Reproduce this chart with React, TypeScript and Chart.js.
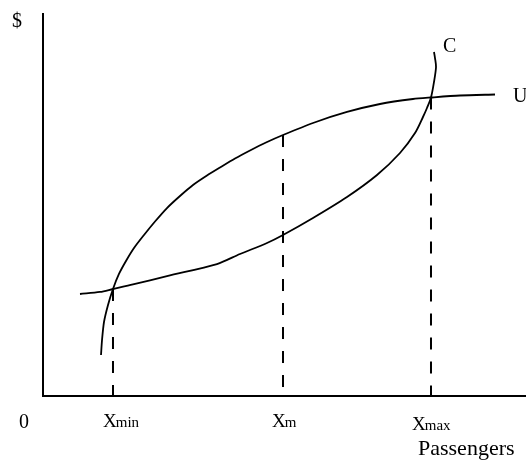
import React, { useEffect, useRef } from "react";
import { Chart, registerables } from "chart.js";

Chart.register(...registerables);

// Curve U (concave) – passengers vs $
const uX = [12.01, 12.22, 12.63, 13.46, 14.49, 15.73, 17.18, 18.84, 20.91, 23.19, 25.67, 28.36, 31.06, 33.95, 36.65, 39.75, 42.86, 46.17, 49.69, 55.9, 62.94, 69.77, 76.6, 80.33, 86.34, 93.58];
const uY = [10.73, 14.66, 19.37, 23.82, 28.01, 31.94, 35.34, 38.74, 42.15, 45.68, 49.21, 52.36, 55.24, 57.72, 59.82, 62.17, 64.27, 66.36, 68.32, 71.47, 74.35, 76.44, 77.75, 78.14, 78.66, 78.93];

// Curve C (convex)
const cX = [7.66, 11.8, 14.49, 18.63, 25.67, 36.02, 40.79, 46.38, 49.69, 55.9, 62.94, 69.15, 73.91, 77.02, 78.67, 79.5, 80.33, 80.95, 81.37, 81.16, 80.95];
const cY = [26.7, 27.23, 28.01, 29.19, 31.41, 34.55, 37.17, 40.05, 42.15, 46.6, 52.09, 57.85, 63.61, 68.85, 73.04, 75.39, 78.14, 82.2, 86.13, 88.48, 90.05];

// Marked passenger levels and the height of the dashed drop lines
const markNames = ["min", "m", "max"];
const markX = [14.49, 49.69, 80.33];
const markTop = [28.01, 68.32, 78.14];

const FONT = '"Liberation Serif", "DejaVu Serif", "Times New Roman", serif';

const labelsPlugin = {
  id: "econLabels",
  afterDraw(chart: any) {
    const ctx = chart.ctx;
    const xs = chart.scales.x;
    ctx.save();
    ctx.fillStyle = "#000";
    ctx.textBaseline = "alphabetic";
    ctx.textAlign = "left";
    ctx.font = `20px ${FONT}`;
    ctx.fillText("$", 12, 27);
    ctx.fillText("0", 19, 428);
    ctx.fillText("C", 443, 52);
    ctx.fillText("U", 513, 102);
    const offs = [-10, -11, -19];
    const bases = [427, 427, 430];
    markX.forEach((v, i) => {
      const px = xs.getPixelForValue(v) + offs[i];
      ctx.font = `19px ${FONT}`;
      ctx.fillText("X", px, bases[i]);
      const w = ctx.measureText("X").width;
      ctx.font = `15px ${FONT}`;
      ctx.fillText(markNames[i], px + w - 1, bases[i]);
    });
    ctx.font = `22px ${FONT}`;
    ctx.fillText("Passengers", 418, 455);
    ctx.restore();
  },
};

export default function App() {
  const ref = useRef<HTMLCanvasElement | null>(null);
  useEffect(() => {
    if (!ref.current) return;
    const curve = (xs: number[], ys: number[]) => xs.map((x, i) => ({ x, y: ys[i] }));
    const dashSets = markX.map((v, i) => ({
      data: [
        { x: v, y: markTop[i] },
        { x: v, y: 0 },
      ],
      borderColor: "#000",
      borderWidth: 2,
      borderDash: [12, 12],
      pointRadius: 0,
      tension: 0,
      fill: false,
    }));
    const chart = new Chart(ref.current, {
      type: "line",
      data: {
        datasets: [
          {
            data: curve(uX, uY),
            borderColor: "#000",
            borderWidth: 1.8,
            pointRadius: 0,
            tension: 0.25,
            fill: false,
          },
          {
            data: curve(cX, cY),
            borderColor: "#000",
            borderWidth: 1.8,
            pointRadius: 0,
            tension: 0.3,
            fill: false,
          },
          ...dashSets,
        ],
      },
      options: {
        responsive: false,
        animation: false,
        layout: { padding: { left: 43, top: 14, right: 0, bottom: 72 } },
        plugins: { legend: { display: false }, tooltip: { enabled: false } },
        scales: {
          x: {
            type: "linear",
            min: 0,
            max: 100,
            grid: { display: false, drawTicks: false, tickLength: 0 },
            ticks: { display: false, padding: 0 },
            border: { display: true, color: "#000", width: 2 },
          },
          y: {
            type: "linear",
            min: 0,
            max: 100,
            grid: { display: false, drawTicks: false, tickLength: 0 },
            ticks: { display: false, padding: 0 },
            border: { display: true, color: "#000", width: 2 },
          },
        },
      },
      plugins: [labelsPlugin],
    });
    return () => chart.destroy();
  }, []);
  return (
    <div style={{ position: "absolute", left: 0, top: 0, width: 526, height: 468, background: "#fff" }}>
      <canvas ref={ref} width={526} height={468} style={{ width: 526, height: 468 }} />
    </div>
  );
}
